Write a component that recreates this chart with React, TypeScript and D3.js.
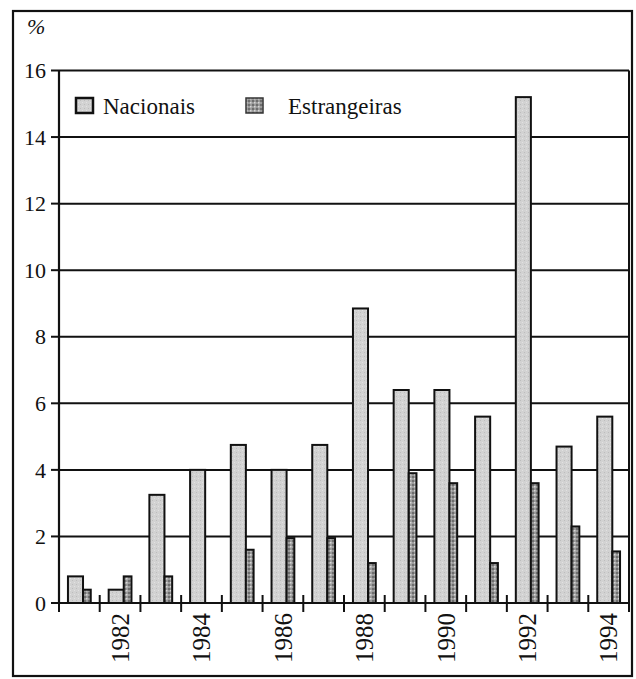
import React from "react";
import * as d3 from "d3";

const years = [1981, 1982, 1983, 1984, 1985, 1986, 1987, 1988, 1989, 1990, 1991, 1992, 1993, 1994];
const nacionais = [0.8, 0.4, 3.25, 4.0, 4.75, 4.0, 4.75, 8.85, 6.4, 6.4, 5.6, 15.2, 4.7, 5.6];
const estrangeiras = [0.4, 0.8, 0.8, 0, 1.6, 1.95, 1.95, 1.2, 3.9, 3.6, 1.2, 3.6, 2.3, 1.55];
const yTicks = [0, 2, 4, 6, 8, 10, 12, 14, 16];
const seriesNames = ["Nacionais", "Estrangeiras"];

const W = 636;
const H = 679;
const left = 59;
const right = 629;
const top = 70.5;
const bottom = 603;
const FONT = "Liberation Serif";

export default function App() {
  const x = d3.scaleBand<number>().domain(years).range([left, right]).padding(0);
  const y = d3.scaleLinear().domain([0, 16]).range([bottom, top]);
  const bw = x.bandwidth();
  const nacOff = bw * 0.22;
  const nacW = bw * 0.37;
  const estW = bw * 0.19;

  return (
    <svg width={W} height={H} style={{ position: "absolute", left: 0, top: 0, background: "#fff" }}>
      <defs>
        <pattern id="nacPat" width="4" height="4" patternUnits="userSpaceOnUse">
          <rect width="4" height="4" fill="#d2d2d2" />
          <rect x="0" y="0" width="1" height="1" fill="#bdbdbd" />
          <rect x="2" y="2" width="1" height="1" fill="#e2e2e2" />
        </pattern>
        <pattern id="estPat" width="4" height="4" patternUnits="userSpaceOnUse">
          <rect width="4" height="4" fill="#9a9a9a" />
          <rect x="0" y="0" width="2" height="2" fill="#6e6e6e" />
          <rect x="2" y="2" width="1.5" height="1.5" fill="#d8d8d8" />
        </pattern>
      </defs>

      {/* outer frame */}
      <rect x={13} y={11} width={619} height={665} fill="none" stroke="#111" strokeWidth={2.2} />

      {/* % label */}
      <text x={27} y={34} fontFamily={FONT} fontStyle="italic" fontSize={22} fill="#111">%</text>

      {/* gridlines */}
      {yTicks.filter((t) => t > 0).map((t) => (
        <line key={"g" + t} x1={left} x2={right} y1={y(t)} y2={y(t)} stroke="#111" strokeWidth={2} />
      ))}

      {/* y ticks & labels */}
      {yTicks.map((t) => (
        <g key={"yt" + t}>
          <line x1={51} x2={left} y1={y(t)} y2={y(t)} stroke="#111" strokeWidth={2} />
          <text x={46} y={y(t)} dy="0.35em" textAnchor="end" fontFamily={FONT} fontSize={22} fill="#111">
            {t}
          </text>
        </g>
      ))}

      {/* bars */}
      {years.map((yr, i) => {
        const x0 = x(yr)!;
        return (
          <g key={"b" + yr}>
            {nacionais[i] > 0 && (
              <rect x={x0 + nacOff} y={y(nacionais[i])} width={nacW} height={bottom - y(nacionais[i])}
                fill="url(#nacPat)" stroke="#111" strokeWidth={2} />
            )}
            {estrangeiras[i] > 0 && (
              <rect x={x0 + nacOff + nacW} y={y(estrangeiras[i])} width={estW} height={bottom - y(estrangeiras[i])}
                fill="url(#estPat)" stroke="#111" strokeWidth={2} />
            )}
          </g>
        );
      })}

      {/* axes */}
      <line x1={left} x2={left} y1={top} y2={bottom} stroke="#111" strokeWidth={2.2} />
      <line x1={right} x2={right} y1={top} y2={bottom} stroke="#111" strokeWidth={2} />
      <line x1={51} x2={right} y1={bottom} y2={bottom} stroke="#111" strokeWidth={2.2} />

      {/* x ticks */}
      {years.slice(1).map((yr) => (
        <line key={"xt" + yr} x1={x(yr)!} x2={x(yr)!} y1={bottom - 8} y2={bottom + 9} stroke="#111" strokeWidth={2} />
      ))}
      <line x1={right} x2={right} y1={bottom} y2={bottom + 9} stroke="#111" strokeWidth={2} />
      <line x1={left} x2={left} y1={bottom} y2={bottom + 9} stroke="#111" strokeWidth={2} />

      {/* x labels */}
      {years.filter((yr) => yr % 2 === 0).map((yr) => (
        <text key={"xl" + yr} transform={`translate(${x(yr)! + bw / 2},${613}) rotate(-90)`}
          textAnchor="end" dy="0.35em" fontFamily={FONT} fontSize={25} fill="#111">
          {yr}
        </text>
      ))}

      {/* legend */}
      <rect x={76} y={98} width={17} height={15} fill="url(#nacPat)" stroke="#111" strokeWidth={2.5} />
      <text x={103} y={114} fontFamily={FONT} fontSize={23} fill="#111">{seriesNames[0]}</text>
      <rect x={246} y={98} width={17} height={15} fill="url(#estPat)" stroke="#333" strokeWidth={1.5} />
      <text x={288} y={114} fontFamily={FONT} fontSize={23} fill="#111">{seriesNames[1]}</text>
    </svg>
  );
}
